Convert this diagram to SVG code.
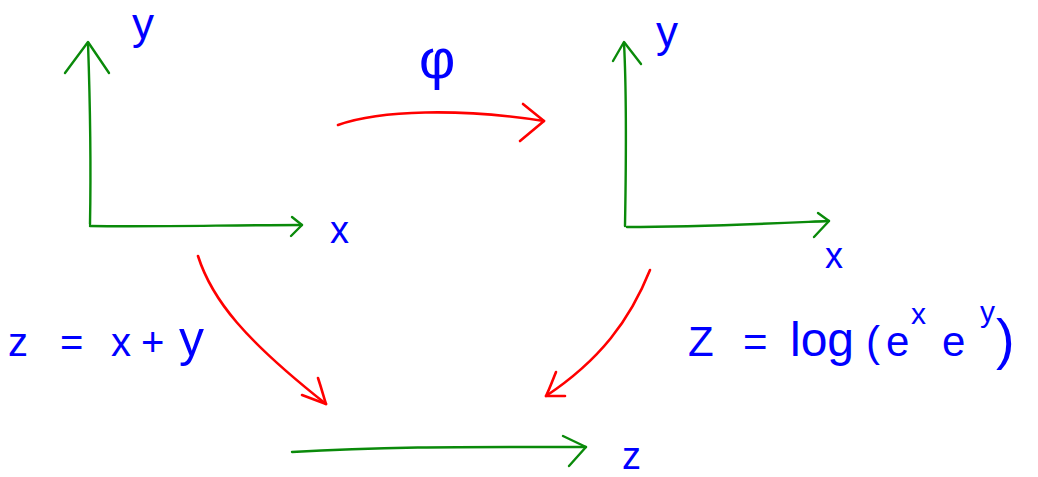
<svg xmlns="http://www.w3.org/2000/svg" width="1038" height="477" viewBox="0 0 1038 477">
<style>
.g{fill:none;stroke:#0a8a0a;stroke-width:2.4;stroke-linecap:round;stroke-linejoin:round}
.r{fill:none;stroke:#ff0000;stroke-width:2.6;stroke-linecap:round;stroke-linejoin:round}
.t{fill:#0000ff;font-family:"Liberation Sans","DejaVu Sans",sans-serif}
</style>
<rect width="1038" height="477" fill="#ffffff"/>
<g id="axes-left">
<path class="g" d="M90,224 C91,170 90,100 88,43"/>
<path class="g" d="M65,73 L88,42 L109,73"/>
<path class="g" d="M90,226 C160,227 230,225 302,225"/>
<path class="g" d="M292,217 L302,225 L291,236"/>
<text class="t" x="132" y="39" font-size="44">y</text>
<text class="t" x="330" y="243" font-size="38">x</text>
</g>
<g id="axes-right">
<path class="g" d="M625,226 C626,170 627,100 624,43"/>
<path class="g" d="M613,61 L624,42 L641,64"/>
<path class="g" d="M627,227 C700,227 760,224 829,221"/>
<path class="g" d="M818,213 L829,221 L814,237"/>
<text class="t" x="656" y="47" font-size="44">y</text>
<text class="t" x="825" y="268" font-size="36">x</text>
</g>
<g id="axis-z">
<path class="g" d="M292,452 C390,446 480,447 586,447"/>
<path class="g" d="M563,436 L586,447 L569,466"/>
<text class="t" x="622" y="469" font-size="38">z</text>
</g>
<g id="label-phi">
<text class="t" x="419" y="78" font-size="56">φ</text>
</g>
<g id="label-left">
<text class="t" y="356" font-size="40"><tspan x="8">z</tspan><tspan x="60">=</tspan><tspan x="111">x</tspan><tspan x="141">+</tspan><tspan x="179" font-size="50">y</tspan></text>
</g>
<g id="label-right">
<text class="t" y="356" font-size="42"><tspan x="688">Z</tspan><tspan x="743">=</tspan><tspan x="790" font-size="48">log</tspan><tspan x="866">(</tspan><tspan x="886">e</tspan><tspan x="911" y="324" font-size="30">x</tspan><tspan x="942" y="356">e</tspan><tspan x="980" y="322" font-size="30">y</tspan><tspan x="996" y="358" font-size="56">)</tspan></text>
</g>
<g id="connectors">
<path class="r" d="M338,125 C380,110 460,108 544,121"/>
<path class="r" d="M523,104 L544,121 L520,141"/>
<path class="r" d="M198,256 C212,300 245,340 326,404"/>
<path class="r" d="M318,378 C322,390 324,398 326,404 L302,395"/>
<path class="r" d="M650,270 C630,320 600,360 546,396"/>
<path class="r" d="M556,372 C552,382 549,390 546,396 L565,396"/>
</g>
</svg>
